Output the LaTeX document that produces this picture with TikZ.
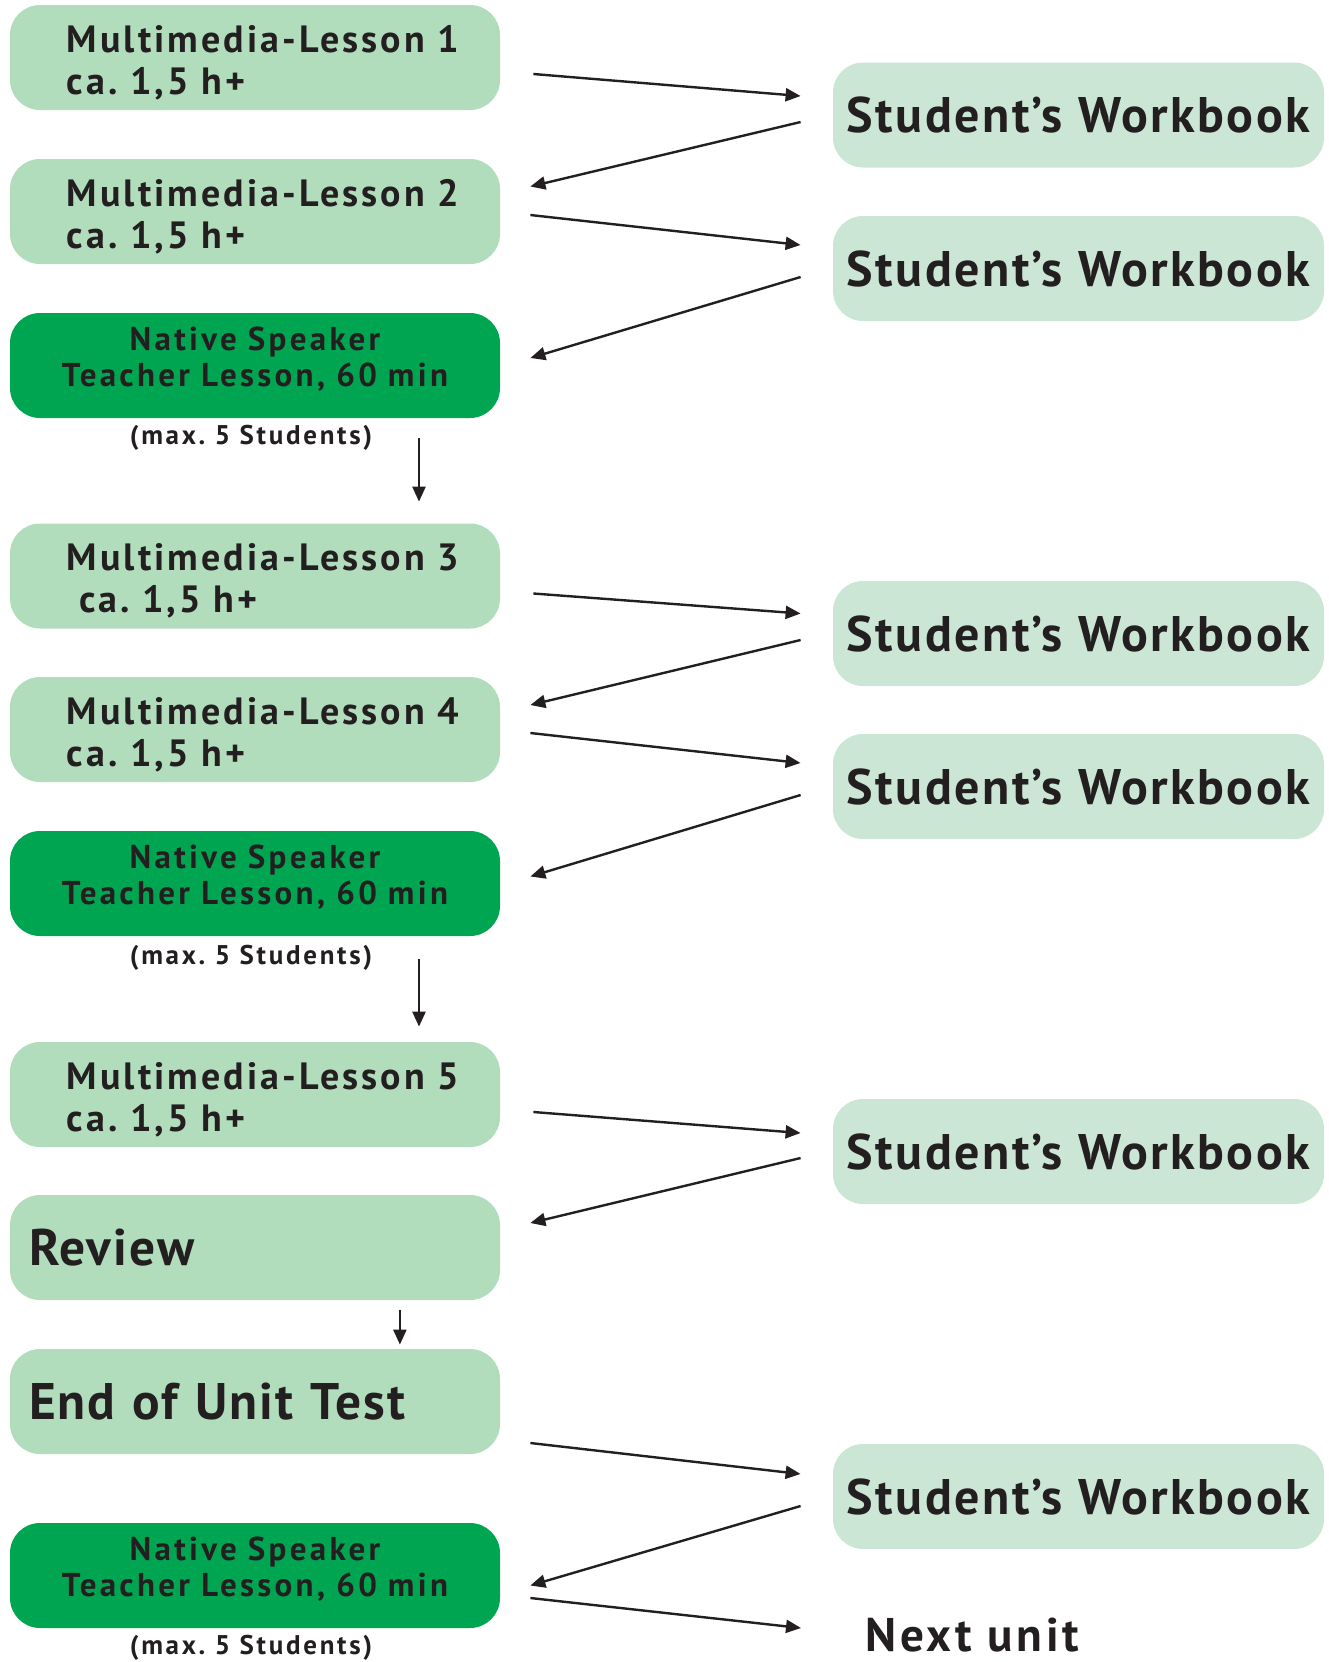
\documentclass[tikz,border=0pt]{standalone}
\usepackage{fontspec}
\setmainfont{PT Sans}
\usetikzlibrary{arrows.meta,positioning}

\definecolor{lessongreen}{HTML}{B2DDBD}
\definecolor{bookgreen}{HTML}{CBE6D5}
\definecolor{teachergreen}{HTML}{00A551}
\definecolor{inkblack}{HTML}{231F20}
\frenchspacing

\begin{document}
\begin{tikzpicture}[%
    x=0.5pt, y=-0.5pt,
    box/.style={
        rectangle,
        rounded corners=15pt,
        minimum height=52.5pt,
        text width=226pt,
        inner xsep=9.5pt,
        text=inkblack,
        align=left
        },
    lesson/.style={box, fill=lessongreen, text depth=19pt,
        font=\bfseries\fontsize{19}{21}\selectfont\addfontfeatures{LetterSpace=8},
        execute at begin node={\leftskip=19pt}},
    teacher/.style={box, fill=teachergreen, align=center, text depth=27pt,
        font=\bfseries\fontsize{16.5}{18}\selectfont\addfontfeatures{LetterSpace=10}},
    bigbox/.style={box, fill=lessongreen,
        font=\bfseries\fontsize{25.7}{30}\selectfont\addfontfeatures{LetterSpace=4}},
    workbook/.style={box, fill=bookgreen, text width={}, inner xsep=2pt,
        minimum width=245.5pt,
        font=\bfseries\fontsize{25}{30}\selectfont\addfontfeatures{LetterSpace=5}},
    note/.style={inner sep=0pt, text=inkblack,
        font=\bfseries\fontsize{13.5}{15}\selectfont\addfontfeatures{LetterSpace=10}},
    flow/.style={-{Triangle[length=7.5pt,width=6.5pt]},
        line width=1.2pt, draw=inkblack},
]

\useasboundingbox (0,0) rectangle (1329,1662);

% left column
\node[lesson] (ml1) at (255,57.5) {Multimedia-Lesson 1\\ca. 1,5 h+};
\node[lesson] (ml2) at (255,211.5) {Multimedia-Lesson 2\\ca. 1,5 h+};
\node[teacher] (nst1) at (255,365.5) {Native Speaker\\Teacher Lesson, 60 min};
\node[note, below=3pt of nst1, xshift=-2pt] (max1) {(max. 5 Students)};
\node[lesson] (ml3) at (255,576) {Multimedia-Lesson 3\\\hspace*{6pt}ca. 1,5 h+};
\node[lesson] (ml4) at (255,729.5) {Multimedia-Lesson 4\\ca. 1,5 h+};
\node[teacher] (nst2) at (255,883.5) {Native Speaker\\Teacher Lesson, 60 min};
\node[note, below=4pt of nst2, xshift=-2pt] (max2) {(max. 5 Students)};
\node[lesson] (ml5) at (255,1094.5) {Multimedia-Lesson 5\\ca. 1,5 h+};
\node[bigbox] (review) at (255,1247.5) {Review};
\node[bigbox] (test) at (255,1401.5) {End of Unit Test};
\node[teacher] (nst3) at (255,1575.5) {Native Speaker\\Teacher Lesson, 60 min};
\node[note, below=3pt of nst3, xshift=-2pt] (max3) {(max. 5 Students)};

% right column
\node[workbook] (wb1) at (1078.5,115) {Student’s Workbook};
\node[workbook] (wb2) at (1078.5,268.5) {Student’s Workbook};
\node[workbook] (wb3) at (1078.5,633.5) {Student’s Workbook};
\node[workbook] (wb4) at (1078.5,786.5) {Student’s Workbook};
\node[workbook] (wb5) at (1078.5,1151.5) {Student’s Workbook};
\node[workbook] (wb6) at (1078.5,1496.5) {Student’s Workbook};
\node[anchor=west, inner sep=0pt, text=inkblack,
      font=\bfseries\fontsize{23.6}{28}\selectfont\addfontfeatures{LetterSpace=8}]
      (next) at (865,1635) {Next unit};

% zig-zag
\draw[flow] ([shift={(33,16.5)}]ml1.east) -- ([shift={(-32,-19)}]wb1.west);
\draw[flow] ([shift={(-32,7)}]wb1.west) -- ([shift={(30,-25)}]ml2.east);
\draw[flow] ([shift={(30,3.5)}]ml2.east) -- ([shift={(-32,-23.5)}]wb2.west);
\draw[flow] ([shift={(-32,8.5)}]wb2.west) -- ([shift={(30,-7.5)}]nst1.east);
\draw[flow] ([shift={(-81.4,20)}]nst1.south east) -- ([shift={(-81.4,-21.5)}]ml3.north east);

\draw[flow] ([shift={(33,17.5)}]ml3.east) -- ([shift={(-32,-20)}]wb3.west);
\draw[flow] ([shift={(-32,6.5)}]wb3.west) -- ([shift={(30,-24.5)}]ml4.east);
\draw[flow] ([shift={(30,3.5)}]ml4.east) -- ([shift={(-32,-23.5)}]wb4.west);
\draw[flow] ([shift={(-32,8.5)}]wb4.west) -- ([shift={(30,-7)}]nst2.east);
\draw[flow] ([shift={(-81.4,23)}]nst2.south east) -- ([shift={(-81.4,-15)}]ml5.north east);

\draw[flow] ([shift={(33,17.5)}]ml5.east) -- ([shift={(-32,-18.5)}]wb5.west);
\draw[flow] ([shift={(-32,6.5)}]wb5.west) -- ([shift={(30,-24.5)}]review.east);
\draw[flow] ([shift={(-100.5,10)}]review.south east) -- ([shift={(-100.5,-4)}]test.north east);
\draw[flow] ([shift={(30,41.5)}]test.east) -- ([shift={(-32,-22.5)}]wb6.west);
\draw[flow] ([shift={(-32,9.5)}]wb6.west) -- ([shift={(30,10)}]nst3.east);
\draw[flow] ([shift={(30,22.5)}]nst3.east) -- ([shift={(-64,-7)}]next.west);
\end{tikzpicture}
\end{document}
